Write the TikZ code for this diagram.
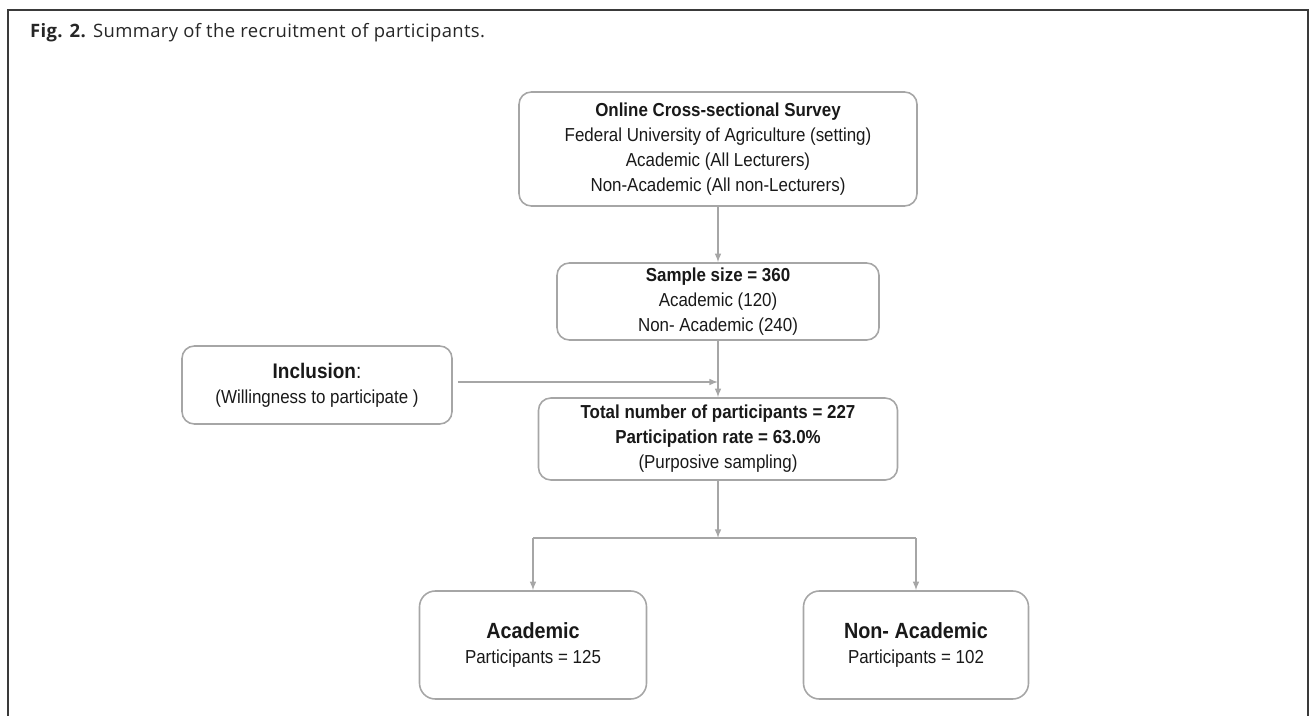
\documentclass[tikz,border=0pt]{standalone}
\usepackage{fontspec}
\setmainfont{Liberation Sans}
\newfontfamily\boxfont[FakeStretch=0.9]{Liberation Sans}
\newfontfamily\capfont[LetterSpace=2]{Open Sans}
\usepackage{tikz}
\usetikzlibrary{positioning}

\definecolor{boxgray}{HTML}{A6A6A6}
\definecolor{framegray}{HTML}{3A3A3A}

\begin{document}
\begin{tikzpicture}[>=latex,
    box/.style={rectangle, rounded corners=7pt, draw=boxgray, line width=0.9pt, align=center,
        font=\boxfont\fontsize{10.7}{14.2}\selectfont, text=black!90, inner sep=0pt},
    link/.style={draw=boxgray, line width=0.7pt}]
	\useasboundingbox (0,0) rectangle (26.18,-14.32);

	% frame and caption
	\draw[framegray, line width=1.1pt] (0.16,-14.5) -- (0.16,-0.2) -- (26.16,-0.2) -- (26.16,-14.5);
	\node[anchor=base west, font=\capfont\fontsize{10.5}{12}\selectfont, text=black!85] (cap) at (0.48,-0.76) {\textbf{Fig. 2.} Summary of the recruitment of participants.};

	% boxes
	\node[box, minimum width=7.96cm, minimum height=2.28cm] (survey) at (14.36,-2.98) {\textbf{Online Cross-sectional Survey}\\Federal University of Agriculture (setting)\\Academic (All Lecturers)\\Non-Academic (All non-Lecturers)};
	\node[box, minimum width=6.44cm, minimum height=1.54cm] (sample) at (14.36,-6.03) {\textbf{Sample size = 360}\\Academic (120)\\Non- Academic (240)};
	\node[box, minimum width=5.4cm, minimum height=1.56cm] (incl) at (6.34,-7.7) {{\fontsize{12}{15}\selectfont\textbf{Inclusion}:}\\(Willingness to participate )};
	\node[box, minimum width=7.18cm, minimum height=1.64cm] (total) at (14.36,-8.78) {\textbf{Total number of participants = 227}\\\textbf{Participation rate = 63.0\%}\\(Purposive sampling)};
	\node[box, rounded corners=9pt, minimum width=4.54cm, minimum height=2.16cm] (acad) at (10.66,-12.9) {{\fontsize{12.5}{17}\selectfont\textbf{Academic}}\\Participants = 125};
	\node[box, rounded corners=9pt, minimum width=4.5cm, minimum height=2.16cm] (nonacad) at (18.32,-12.9) {{\fontsize{12.5}{17}\selectfont\textbf{Non- Academic}}\\Participants = 102};

	% connectors
	\coordinate (split) at (14.36,-10.76);
	\draw[link,->] (survey) -- (sample);
	\draw[link,->] (sample) -- (total);
	\draw[link,->] ([xshift=0.1cm,yshift=0.06cm]incl.east) -- ([yshift=0.06cm]incl.east -| sample.south);
	\draw[link,->] (total) -- (split);
	\draw[link] (split -| acad) -- (split -| nonacad);
	\draw[link,->] (split -| acad) -- (acad);
	\draw[link,->] (split -| nonacad) -- (nonacad);
\end{tikzpicture}
\end{document}
